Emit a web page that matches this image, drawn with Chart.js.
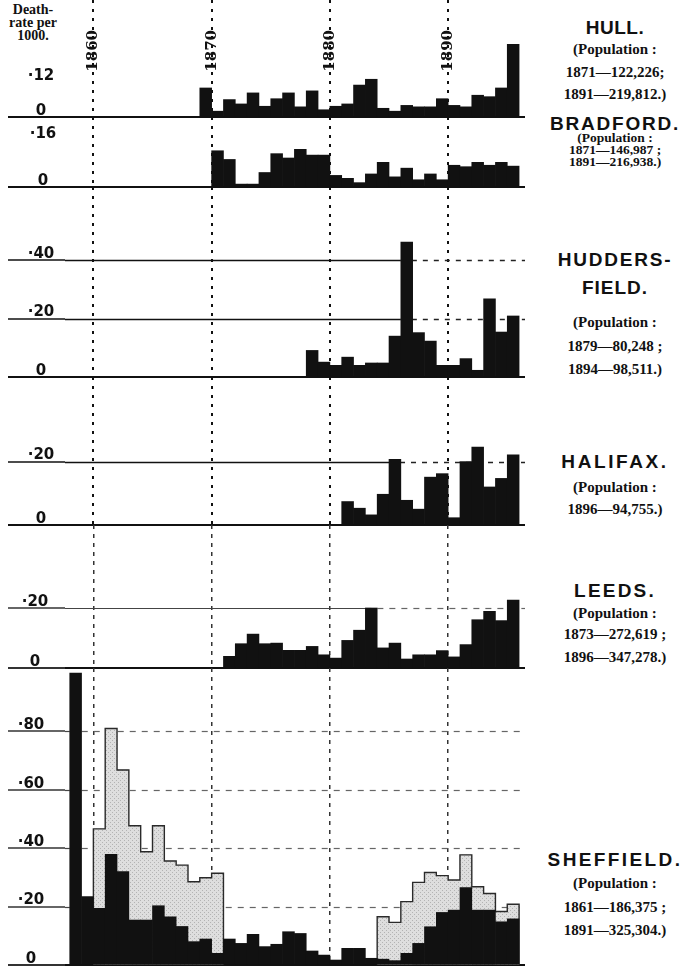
<!DOCTYPE html>
<html>
<head>
<meta charset="utf-8">
<script src="https://cdn.jsdelivr.net/npm/chart.js@4.4.0/dist/chart.umd.min.js"></script>
<style>
  body { margin: 0; background: #fff; }
  #page { position: relative; width: 696px; height: 969px; overflow: hidden; background: #fff; }
  canvas { position: absolute; left: 0; }
  .t { position: absolute; left: 530px; width: 170px; text-align: center; white-space: nowrap; color: #111; line-height: 22px; }
  .town { font: bold 19px "Liberation Sans", Arial, sans-serif; }
  .pop { font: bold 15px "Liberation Serif", serif; }
  .popsm { font: bold 13.5px "Liberation Serif", serif; }
  #unit { position: absolute; left: 0; top: 3px; width: 66px; text-align: center; color: #111;
          font: bold 14px "Liberation Serif", serif; line-height: 13px; }
</style>
</head>
<body>
<div id="page">
  <div id="unit">Death-<br>rate per<br>1000.</div>
</div>
<script>
// decade marks (dotted verticals)
const yearMarks = [1860, 1870, 1880, 1890];

// death-rate per 1000, one value per year, first year given
const hullStart = 1869;
const hullRates = [0.10, 0.02, 0.06, 0.045, 0.083, 0.037, 0.063, 0.083, 0.035, 0.09, 0.025, 0.037, 0.045,
  0.11, 0.13, 0.03, 0.02, 0.04, 0.035, 0.035, 0.063, 0.04, 0.035, 0.075, 0.07, 0.10, 0.25];

const bradfordStart = 1870;
const bradfordRates = [0.125, 0.095, 0.01, 0.01, 0.05, 0.115, 0.10, 0.13, 0.11, 0.11, 0.04, 0.03, 0.015,
  0.045, 0.085, 0.035, 0.065, 0.025, 0.045, 0.025, 0.075, 0.07, 0.085, 0.075, 0.085, 0.072];

const huddersfieldStart = 1878;
const huddersfieldRates = [0.091, 0.051, 0.04, 0.068, 0.04, 0.048, 0.048, 0.14, 0.462, 0.152, 0.123,
  0.04, 0.04, 0.063, 0.023, 0.268, 0.154, 0.209];

const halifaxStart = 1881;
const halifaxRates = [0.074, 0.053, 0.032, 0.097, 0.207, 0.078, 0.05, 0.151, 0.162, 0.023, 0.2, 0.246,
  0.12, 0.147, 0.221];

const leedsStart = 1871;
const leedsRates = [0.039, 0.081, 0.113, 0.081, 0.083, 0.059, 0.059, 0.072, 0.044, 0.033, 0.092, 0.126,
  0.2, 0.067, 0.083, 0.03, 0.044, 0.044, 0.058, 0.037, 0.078, 0.161, 0.189, 0.158, 0.226];

const sheffieldStart = 1858;
const sheffieldRates = [1.0, 0.234, 0.194, 0.379, 0.32, 0.154, 0.154, 0.203, 0.165, 0.132, 0.08, 0.089,
  0.04, 0.089, 0.074, 0.105, 0.063, 0.071, 0.114, 0.108, 0.048, 0.034, 0.017, 0.057, 0.057, 0.023,
  0.02, 0.015, 0.04, 0.074, 0.131, 0.18, 0.188, 0.265, 0.188, 0.188, 0.148, 0.158];

// the stippled series in the Sheffield panel, in two runs
const sheffieldShadedStartA = 1860;
const sheffieldShadedA = [0.466, 0.81, 0.668, 0.477, 0.388, 0.477, 0.356, 0.342, 0.285, 0.299, 0.314];
const sheffieldShadedStartB = 1884;
const sheffieldShadedB = [0.165, 0.146, 0.217, 0.283, 0.317, 0.306, 0.291, 0.377, 0.268, 0.245, 0.183, 0.208];

const xMin = 1857.6, xMax = 1896.5;

function points(start, values) {
  return values.map((v, i) => ({ x: start + i + 0.5, y: v }));
}

function blackBars(start, values) {
  return {
    data: points(start, values),
    backgroundColor: '#111',
    borderWidth: 0,
    barPercentage: 1,
    categoryPercentage: 1,
    grouped: false,
    order: 1
  };
}

function stipple() {
  const c = document.createElement('canvas');
  c.width = 4; c.height = 4;
  const g = c.getContext('2d');
  g.fillStyle = '#dedede'; g.fillRect(0, 0, 4, 4);
  g.fillStyle = '#b3b3b3'; g.fillRect(0, 0, 1, 1); g.fillRect(2, 2, 1, 1);
  return g.createPattern(c, 'repeat');
}

// level lines: solid up to the first bar that reaches the level, dashed after it
const refLines = {
  id: 'refLines',
  beforeDatasetsDraw(chart, args, opts) {
    const levels = opts.levels || [];
    if (!levels.length) return;
    const { ctx, chartArea: a, scales: { y } } = chart;
    levels.forEach(level => {
      let stop = a.right;
      chart.data.datasets.forEach((ds, di) => {
        chart.getDatasetMeta(di).data.forEach((bar, k) => {
          if (ds.data[k].y >= level) stop = Math.min(stop, bar.x - bar.width / 2);
        });
      });
      const py = Math.round(y.getPixelForValue(level)) + 0.5;
      ctx.save();
      ctx.strokeStyle = opts.solidColor;
      ctx.lineWidth = opts.width;
      ctx.beginPath(); ctx.moveTo(a.left, py); ctx.lineTo(stop, py); ctx.stroke();
      ctx.strokeStyle = opts.dashColor;
      ctx.setLineDash(opts.dash);
      ctx.beginPath(); ctx.moveTo(stop, py); ctx.lineTo(a.right, py); ctx.stroke();
      ctx.restore();
    });
  }
};

// step outline round the stippled bars
const stepOutline = {
  id: 'stepOutline',
  afterDatasetDraw(chart, args, opts) {
    if (opts.index === undefined || args.index !== opts.index) return;
    const ctx = chart.ctx;
    const bars = args.meta.data.slice().sort((a, b) => a.x - b.x);
    let prevRight = null, last = null;
    ctx.save();
    ctx.strokeStyle = '#2a2a2a';
    ctx.lineWidth = 1.4;
    ctx.beginPath();
    bars.forEach(b => {
      const l = b.x - b.width / 2, r = b.x + b.width / 2;
      if (prevRight === null || Math.abs(l - prevRight) > 1) {
        if (prevRight !== null) ctx.lineTo(prevRight, last.base);
        ctx.moveTo(l, b.base);
      }
      ctx.lineTo(l, b.y);
      ctx.lineTo(r, b.y);
      prevRight = r; last = b;
    });
    if (last) ctx.lineTo(prevRight, last.base);
    ctx.stroke();
    ctx.restore();
  }
};

const shaded = {
  data: points(sheffieldShadedStartA, sheffieldShadedA).concat(points(sheffieldShadedStartB, sheffieldShadedB)),
  backgroundColor: stipple(),
  borderWidth: 0,
  barPercentage: 1,
  categoryPercentage: 1,
  grouped: false,
  order: 2
};

const darkYear = { color: '#111', width: 2, dash: [3, 6] };
const lightYear = { color: '#333', width: 1.5, dash: [4, 5] };
const darkRef = { solidColor: '#111', dashColor: '#222', width: 1.6, dash: [5, 6] };
const lightRef = { solidColor: '#444', dashColor: '#666', width: 1.2, dash: [6, 6] };

const panels = [
  { top: 0, base: 117, max: 0.403, ticks: [0, 0.12], bare: [0.12], labelX: 41, refs: [],
    sets: [blackBars(hullStart, hullRates)], yearAxisAt: 0.31, year: darkYear, ref: darkRef },
  { top: 117, base: 187, max: 0.2414, ticks: [0, 0.16], bare: [0.16], labelX: 43, refs: [],
    sets: [blackBars(bradfordStart, bradfordRates)], year: darkYear, ref: darkRef },
  { top: 187, base: 377, max: 0.6507, ticks: [0, 0.2, 0.4], bare: [], labelX: 41, refs: [0.2, 0.4],
    sets: [blackBars(huddersfieldStart, huddersfieldRates)], year: darkYear, ref: darkRef },
  { top: 377, base: 525, max: 0.4669, ticks: [0, 0.2], bare: [], labelX: 41, refs: [0.2],
    sets: [blackBars(halifaxStart, halifaxRates)], year: darkYear, ref: darkRef },
  { top: 525, base: 668, max: 0.4767, ticks: [0, 0.2], bare: [], labelX: 35, refs: [0.2],
    sets: [blackBars(leedsStart, leedsRates)], year: lightYear, ref: lightRef },
  { top: 668, base: 965, max: 1.0171, ticks: [0, 0.2, 0.4, 0.6, 0.8], bare: [], labelX: 31, refs: [0.2, 0.4, 0.6, 0.8],
    sets: [blackBars(sheffieldStart, sheffieldRates), shaded], outline: 1, year: lightYear, ref: lightRef }
];

const page = document.getElementById('page');
const labelFont = { family: 'DejaVu Sans', weight: 'bold', size: 15 };
const meas = document.createElement('canvas').getContext('2d');
meas.font = 'bold 15px "DejaVu Sans"';
const fmt = v => v === 0 ? '0' : '·' + Math.round(v * 100);

panels.forEach((p, i) => {
  const cv = document.createElement('canvas');
  cv.width = 530;
  cv.height = p.base - p.top + 3;
  cv.style.top = p.top + 'px';
  page.appendChild(cv);

  const widest = Math.max(...p.ticks.map(v => meas.measureText(fmt(v)).width));
  const pad = 8 - p.labelX - widest / 2;

  new Chart(cv, {
    type: 'bar',
    data: { datasets: p.sets },
    plugins: [refLines, stepOutline],
    options: {
      responsive: false,
      animation: false,
      events: [],
      layout: { padding: { left: 8, right: 5, top: 0, bottom: 3 } },
      plugins: {
        legend: { display: false },
        tooltip: { enabled: false },
        refLines: Object.assign({ levels: p.refs }, p.ref),
        stepOutline: { index: p.outline }
      },
      scales: {
        x: {
          type: 'linear',
          min: xMin,
          max: xMax,
          offset: false,
          position: p.yearAxisAt !== undefined ? { y: p.yearAxisAt } : 'bottom',
          afterBuildTicks: s => { s.ticks = yearMarks.map(v => ({ value: v })); },
          afterFit: s => { s.height = 0; s.paddingLeft = 0; s.paddingRight = 0; },
          ticks: {
            display: p.yearAxisAt !== undefined,
            autoSkip: false,
            minRotation: 90,
            maxRotation: 90,
            padding: 3,
            color: '#111',
            font: { family: 'DejaVu Serif', weight: 'bold', size: 15 },
            callback: v => String(v)
          },
          grid: { offset: false, drawTicks: false, color: p.year.color, lineWidth: p.year.width },
          border: { display: false, dash: p.year.dash }
        },
        y: {
          min: 0,
          max: p.max,
          afterBuildTicks: s => { s.ticks = p.ticks.map(v => ({ value: v })); },
          afterFit: s => { s.width = 57; s.paddingTop = 0; s.paddingBottom = 0; },
          ticks: {
            autoSkip: false,
            crossAlign: 'center',
            padding: pad,
            labelOffset: -6,
            color: '#111',
            font: labelFont,
            callback: fmt
          },
          grid: {
            drawTicks: true,
            tickLength: 57,
            color: c => (c.tick && c.tick.value === 0) ? '#111' : 'rgba(0,0,0,0)',
            lineWidth: 2,
            tickColor: c => (c.tick && p.bare.includes(c.tick.value)) ? 'rgba(0,0,0,0)' : (i >= 4 ? '#333' : '#111'),
            tickWidth: c => (c.tick && c.tick.value === 0) ? 2 : 1.4
          },
          border: { display: false }
        }
      }
    }
  });
});

// town names and populations, right-hand column
const rightText = [
  ['HULL.', 28, 'town', 0.5],
  ['(Population :', 52, 'pop'],
  ['1871—122,226;', 75, 'pop'],
  ['1891—219,812.)', 97, 'pop'],
  ['BRADFORD.', 124, 'town', 1.8],
  ['(Population :', 141, 'popsm'],
  ['1871—146,987 ;', 153, 'popsm'],
  ['1891—216,938.)', 165, 'popsm'],
  ['HUDDERS-', 260, 'town', 1.8],
  ['FIELD.', 288, 'town', 1],
  ['(Population :', 325, 'pop'],
  ['1879—80,248 ;', 349, 'pop'],
  ['1894—98,511.)', 372, 'pop'],
  ['HALIFAX.', 462, 'town', 2.6],
  ['(Population :', 490, 'pop'],
  ['1896—94,755.)', 512, 'pop'],
  ['LEEDS.', 591, 'town', 2.2],
  ['(Population :', 616, 'pop'],
  ['1873—272,619 ;', 637, 'pop'],
  ['1896—347,278.)', 660, 'pop'],
  ['SHEFFIELD.', 860, 'town', 2.4],
  ['(Population :', 886, 'pop'],
  ['1861—186,375 ;', 910, 'pop'],
  ['1891—325,304.)', 933, 'pop']
];
rightText.forEach(([txt, cy, cls, ls]) => {
  const d = document.createElement('div');
  d.className = 't ' + cls;
  d.textContent = txt;
  d.style.top = (cy - 11) + 'px';
  if (ls) d.style.letterSpacing = ls + 'px';
  page.appendChild(d);
});
</script>
</body>
</html>
